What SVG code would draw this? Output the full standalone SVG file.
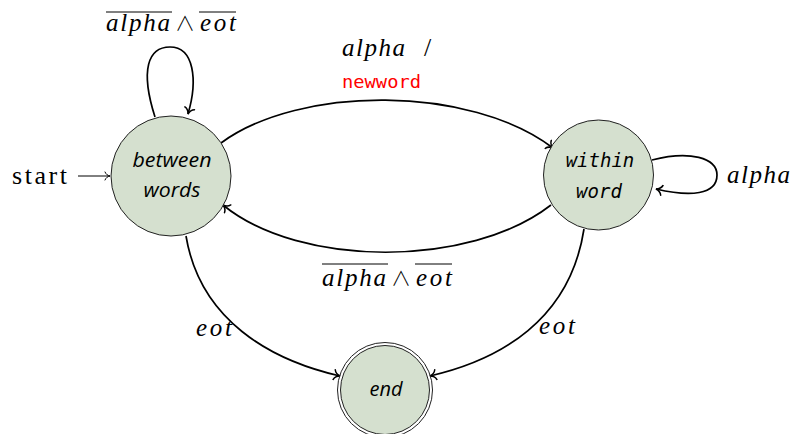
<svg xmlns="http://www.w3.org/2000/svg" width="795" height="434" viewBox="0 0 795 434">
  <style>
    .state { fill: #d5e0cf; stroke: #222; stroke-width: 1; }
    .edge { fill: none; stroke: #000; stroke-width: 1.7; }
    .math { font-family: "Liberation Serif", "DejaVu Serif", serif; font-style: italic; font-size: 25px; fill: #000; }
    .rm { font-family: "Liberation Serif", "DejaVu Serif", serif; font-size: 26px; fill: #000; }
    .wedge { font-family: "Noto Sans CJK JP", "DejaVu Sans", sans-serif; font-weight: 300; font-size: 20px; fill: #000; }
    .lbl { font-family: "Open Sans", "DejaVu Sans", sans-serif; font-style: italic; font-size: 20px; fill: #000; }
    .mono { font-family: "DejaVu Sans Mono", monospace; font-style: italic; font-size: 19px; fill: #000; }
    .code { font-family: "DejaVu Sans Mono", monospace; font-size: 18.5px; fill: #ff0000; }
    .bar { stroke: #000; stroke-width: 1; }
  </style>
  <defs>
    <marker id="to" viewBox="-7 -6 8 12" markerWidth="8" markerHeight="12" refX="0" refY="0" orient="auto" markerUnits="userSpaceOnUse">
      <path d="M -6 -5 C -5 -2 -2 -0.5 0 0 C -2 0.5 -5 2 -6 5" fill="none" stroke="#000" stroke-width="1.5" stroke-linecap="round"/>
    </marker>
    <marker id="toThin" viewBox="-7 -6 8 12" markerWidth="8" markerHeight="12" refX="0" refY="0" orient="auto" markerUnits="userSpaceOnUse">
      <path d="M -5 -4 C -4 -1.5 -2 -0.4 0 0 C -2 0.4 -4 1.5 -5 4" fill="none" stroke="#000" stroke-width="1" stroke-linecap="round"/>
    </marker>
  </defs>

  <!-- transitions -->
  <g id="connectors">
    <path id="start-arrow" d="M 78 176 L 110 176" fill="none" stroke="#000" stroke-width="1" marker-end="url(#toThin)"/>
    <path id="loop-between" class="edge" d="M 155 117 C 140 70, 148 47, 170 47 C 194 47, 198 80, 188 114" marker-end="url(#to)"/>
    <path id="between-within" class="edge" d="M 221 143 C 300 85, 470 85, 553 148" marker-end="url(#to)"/>
    <path id="within-between" class="edge" d="M 551 205 C 470 268, 300 268, 223 205" marker-end="url(#to)"/>
    <path id="loop-within" class="edge" d="M 652 160 C 690 150, 717 158, 717 175 C 717 195, 690 197, 656 189" marker-end="url(#to)"/>
    <path id="between-end" class="edge" d="M 186 236 C 200 320, 270 360, 340 376" marker-end="url(#to)"/>
    <path id="within-end" class="edge" d="M 584 229 C 570 320, 500 360, 430 376" marker-end="url(#to)"/>
  </g>

  <!-- transition labels -->
  <g id="labels">
    <text class="rm" x="12" y="184" textLength="55" lengthAdjust="spacing">start</text>

    <text class="math" x="106" y="31" textLength="64" lengthAdjust="spacing">alpha</text>
    <text class="wedge" x="175" y="31">∧</text>
    <text class="math" x="200" y="31" textLength="36" lengthAdjust="spacing">eot</text>
    <line class="bar" x1="106" y1="12" x2="172" y2="12"/>
    <line class="bar" x1="199" y1="12" x2="236" y2="12"/>

    <text class="math" x="342" y="56" textLength="63" lengthAdjust="spacing">alpha</text>
    <text class="rm" x="424" y="56">/</text>
    <text class="code" x="342" y="88" textLength="79" lengthAdjust="spacingAndGlyphs">newword</text>

    <text class="math" x="322" y="286" textLength="64" lengthAdjust="spacing">alpha</text>
    <text class="wedge" x="391" y="286">∧</text>
    <text class="math" x="416" y="286" textLength="36" lengthAdjust="spacing">eot</text>
    <line class="bar" x1="322" y1="264" x2="388" y2="264"/>
    <line class="bar" x1="415" y1="264" x2="452" y2="264"/>

    <text class="math" x="727" y="183" textLength="63" lengthAdjust="spacing">alpha</text>
    <text class="math" x="196" y="336" textLength="36" lengthAdjust="spacing">eot</text>
    <text class="math" x="539" y="334" textLength="36" lengthAdjust="spacing">eot</text>
  </g>

  <!-- states -->
  <g id="between-words">
    <circle class="state" cx="171" cy="176" r="60"/>
    <text class="lbl" x="172" y="167" text-anchor="middle" textLength="79" lengthAdjust="spacingAndGlyphs">between</text>
    <text class="lbl" x="172" y="197" text-anchor="middle" textLength="57" lengthAdjust="spacingAndGlyphs">words</text>
  </g>
  <g id="within-word">
    <circle class="state" cx="598.5" cy="175" r="55"/>
    <text class="mono" x="600" y="167" text-anchor="middle">within</text>
    <text class="mono" x="599" y="198" text-anchor="middle">word</text>
  </g>
  <g id="end">
    <circle cx="385" cy="390" r="47.5" fill="none" stroke="#222" stroke-width="1"/>
    <circle class="state" cx="385" cy="390" r="44.5"/>
    <text class="lbl" x="386" y="396" text-anchor="middle">end</text>
  </g>
</svg>
